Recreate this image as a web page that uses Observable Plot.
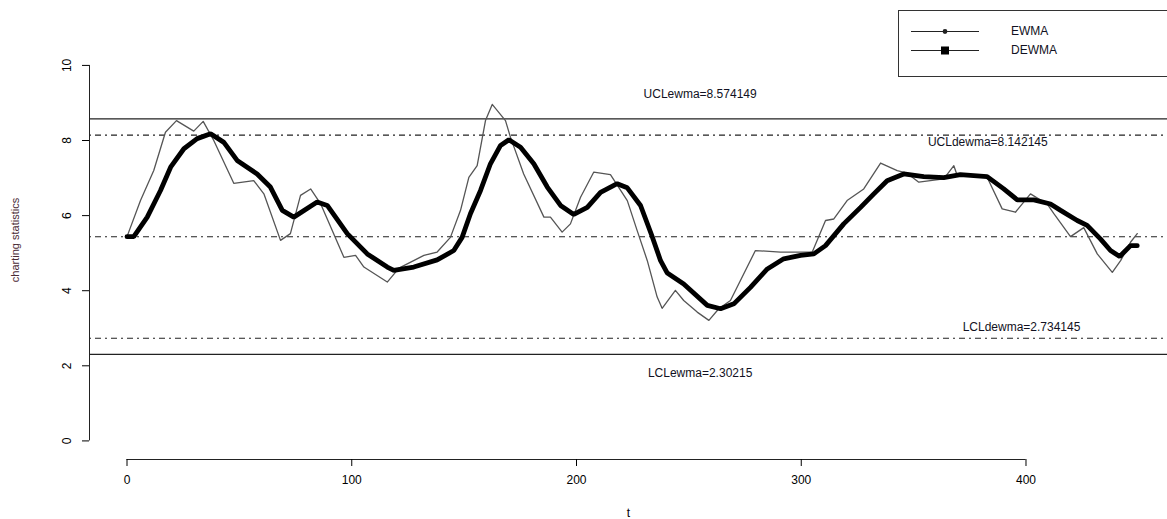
<!DOCTYPE html>
<html>
<head>
<meta charset="utf-8">
<script src="https://cdn.jsdelivr.net/npm/d3@7"></script>
<script src="https://cdn.jsdelivr.net/npm/@observablehq/plot@0.6"></script>
<style>
  body { margin: 0; background: #fff; font-family: "Liberation Sans", Arial, sans-serif; }
  #wrap { position: relative; width: 1167px; height: 519px; overflow: hidden; }
  #legend { position: absolute; left: 898px; top: 10px; width: 320px; height: 67px;
            border: 1px solid #333; box-sizing: border-box; background: #fff; }
  #legend svg { position: absolute; left: 0; top: 0; }
  #legend span { position: absolute; left: 112px; font-size: 12px; color: #111122; line-height: 14px; }
</style>
</head>
<body>
<div id="wrap">
  <div id="chart"></div>
  <div id="legend">
    <svg width="120" height="65">
      <line x1="12" x2="80" y1="20.5" y2="20.5" stroke="#222" stroke-width="1.2"></line>
      <circle cx="46" cy="20.5" r="2.4" fill="#222"></circle>
      <line x1="12" x2="80" y1="39.5" y2="39.5" stroke="#222" stroke-width="1.2"></line>
      <rect x="42" y="35.5" width="8" height="8" fill="#000"></rect>
    </svg>
    <span style="top:13px">EWMA</span>
    <span style="top:32px">DEWMA</span>
  </div>
</div>
<script>
// EWMA charting statistic (t, value)
const ewmaT = [0, 6.0, 11.9, 17.1, 22.0, 29.7, 33.9, 38.6, 47.5, 56.4, 60.9, 68.3, 72.7, 77.2, 81.7, 86.1,
  96.5, 101.7, 105.4, 115.8, 121.0, 132.1, 138.0, 143.9, 148.4, 152.1, 155.8, 159.5, 162.5, 168.4, 170.6,
  176.5, 185.5, 188.4, 193.6, 197.3, 201.8, 207.7, 215.1, 222.6, 227.0, 231.5, 235.9, 238.1, 244.0, 247.7,
  253.7, 258.9, 263.3, 268.5, 279.6, 290.8, 304.9, 310.8, 314.5, 320.4, 327.8, 335.3, 342.7, 347.1, 352.3,
  363.4, 367.9, 369.4, 382.7, 389.4, 395.3, 402.0, 409.4, 412.4, 419.8, 425.7, 431.7, 438.4, 442.1, 446.5, 449.5];
const ewmaV = [5.44, 6.40, 7.20, 8.22, 8.53, 8.25, 8.51, 8.00, 6.86, 6.93, 6.58, 5.34, 5.52, 6.54, 6.71, 6.32,
  4.89, 4.94, 4.63, 4.23, 4.60, 4.94, 5.03, 5.42, 6.14, 7.02, 7.33, 8.53, 8.96, 8.53, 8.09,
  7.11, 5.96, 5.96, 5.56, 5.78, 6.49, 7.16, 7.09, 6.40, 5.60, 4.80, 3.83, 3.53, 4.01, 3.74,
  3.43, 3.21, 3.52, 3.74, 5.07, 5.03, 5.03, 5.87, 5.91, 6.40, 6.71, 7.40, 7.20, 7.13, 6.89,
  6.98, 7.33, 7.07, 7.02, 6.18, 6.09, 6.58, 6.31, 6.05, 5.44, 5.68, 4.98, 4.49, 4.80, 5.29, 5.52];

// DEWMA charting statistic (t, value)
const dewmaT = [0, 3.0, 9.0, 14.9, 19.4, 25.3, 31.2, 37.2, 43.1, 49.0, 57.9, 63.8, 69.1, 74.2, 84.6, 89.1,
  98.0, 106.9, 115.8, 118.7, 127.6, 138.0, 145.4, 149.1, 152.8, 157.3, 161.7, 166.2, 169.9, 175.1, 181.0,
  187.0, 192.9, 198.8, 204.8, 210.7, 218.1, 222.6, 228.5, 233.5, 237.4, 240.4, 247.7, 258.2, 264.1, 270.0,
  277.4, 284.9, 292.2, 299.7, 305.6, 310.8, 318.9, 326.4, 332.3, 338.2, 345.6, 354.5, 363.4, 370.8, 382.7,
  390.1, 396.1, 403.5, 410.9, 415.4, 422.8, 427.2, 433.1, 437.6, 441.7, 446.5, 449.5];
const dewmaV = [5.44, 5.44, 5.96, 6.67, 7.29, 7.78, 8.05, 8.18, 7.95, 7.47, 7.11, 6.76, 6.14, 5.96, 6.36, 6.27,
  5.52, 4.98, 4.63, 4.54, 4.63, 4.82, 5.07, 5.42, 6.05, 6.67, 7.38, 7.87, 8.02, 7.82, 7.38,
  6.76, 6.27, 6.03, 6.22, 6.62, 6.85, 6.74, 6.27, 5.47, 4.80, 4.47, 4.18, 3.61, 3.52, 3.65,
  4.09, 4.58, 4.85, 4.94, 4.98, 5.20, 5.78, 6.22, 6.58, 6.93, 7.11, 7.04, 7.01, 7.09, 7.04,
  6.71, 6.42, 6.42, 6.31, 6.14, 5.87, 5.74, 5.38, 5.07, 4.91, 5.20, 5.20];

// Control limits and centre line
const limitNames = ["UCLewma", "LCLewma", "UCLdewma", "LCLdewma"];
const limitValues = [8.574149, 2.30215, 8.142145, 2.734145];
const centerLine = 5.43815;

// Axis ticks
const xTicks = [0, 100, 200, 300, 400];
const yTicks = [0, 2, 4, 6, 8, 10];

const ewma = ewmaT.map((t, i) => ({t, v: ewmaV[i]}));
const dewma = dewmaT.map((t, i) => ({t, v: dewmaV[i]}));

// Where each limit's annotation sits: t position and offset from the limit line
const labelPlace = [
  {t: 255, dv: 0.67},
  {t: 255, dv: -0.49},
  {t: 383, dv: -0.19},
  {t: 398, dv: 0.30}
];
const limitLabels = limitNames.map((name, i) => ({
  t: labelPlace[i].t,
  v: limitValues[i] + labelPlace[i].dv,
  text: `${name}=${limitValues[i]}`
}));

const xDom = [-16.69, 462.96];
const yDom = [-0.495, 10.397];

const chart = Plot.plot({
  width: 1167,
  height: 519,
  marginLeft: 89,
  marginRight: 0,
  marginTop: 50,
  marginBottom: 60,
  x: {domain: xDom},
  y: {domain: yDom},
  style: {fontFamily: "'Liberation Sans', Arial, sans-serif", fontSize: "12px", background: "#fff", color: "#000"},
  marks: [
    // EWMA limits (solid)
    Plot.ruleY(limitValues.slice(0, 2), {stroke: "#222", strokeWidth: 1.2}),
    // DEWMA limits and centre line (dot-dash)
    Plot.ruleY([...limitValues.slice(2), centerLine], {stroke: "#222", strokeWidth: 1.1, strokeDasharray: "2,4,6,4"}),
    Plot.text(limitLabels, {x: "t", y: "v", text: "text", fontSize: 12, fill: "#111122"}),
    // statistics
    Plot.line(ewma, {x: "t", y: "v", stroke: "#555", strokeWidth: 1.3}),
    Plot.line(dewma, {x: "t", y: "v", stroke: "#000", strokeWidth: 4.8, strokeLinejoin: "miter"}),
    // axes drawn between the first and last tick
    Plot.ruleY([yDom[0]], {x1: xTicks[0], x2: xTicks[xTicks.length - 1], stroke: "#222"}),
    Plot.ruleX([xDom[0]], {y1: yTicks[0], y2: yTicks[yTicks.length - 1], stroke: "#222"}),
    Plot.axisX({ticks: xTicks, tickSize: 7, tickPadding: 9, label: "t", labelAnchor: "center", labelArrow: "none", labelOffset: 57}),
    Plot.axisY({ticks: yTicks, tickSize: 7, tickFormat: () => "", label: null}),
    Plot.text(yTicks, {y: d => d, text: d => String(d), frameAnchor: "left", textAnchor: "middle", rotate: -90, dx: -22, fontSize: 12}),
    Plot.text(["charting statistics"], {frameAnchor: "left", textAnchor: "middle", rotate: -90, dx: -74, dy: -15, fontSize: 11, fill: "#4a2b35"})
  ]
});
document.getElementById("chart").appendChild(chart);
</script>
</body>
</html>
